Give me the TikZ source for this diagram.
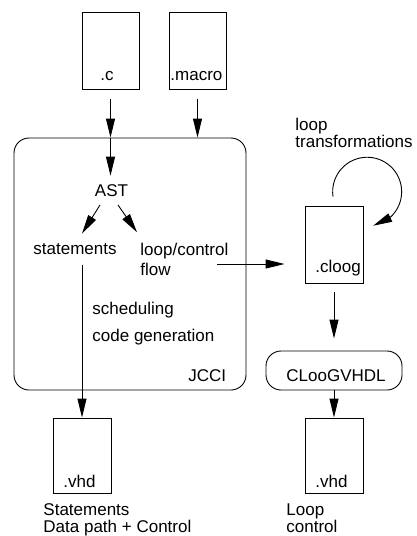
\documentclass[tikz,border=0pt]{standalone}
\usepackage{fontspec}
\setmainfont{Liberation Sans}
\usetikzlibrary{arrows.meta,bending}
\begin{document}
\begin{tikzpicture}[x=1pt,y=-1pt,line width=0.9pt,
  doc/.style={draw,inner sep=0pt,minimum width=57pt,minimum height=77pt},
  rbox/.style={draw,rounded corners=15pt,inner sep=0pt},
  txt/.style={inner sep=0pt,anchor=base west,align=left,font=\fontsize{17pt}{20pt}\selectfont},
  arr/.style={-{Triangle[length=19pt,width=9pt]}}]
\useasboundingbox (0,0) rectangle (417,536);
% input files
\node[doc] (cdoc) at (110.5,51) {};
\node[doc] (mdoc) at (197.5,51) {};
\node[txt] (ctxt) at (100,80) {.c};
\node[txt] (mtxt) at (170,80) {.macro};
% JCCI
\node[rbox,minimum width=232pt,minimum height=252pt] (jcci) at (130,264) {};
\node[txt] (jccitxt) at (188,381) {JCCI};
\node[txt,anchor=base] (ast) at (111.5,196) {AST};
\node[txt] (stm) at (33,254) {statements};
\node[txt] (loopc) at (140,275) {loop/control\\flow};
\node[txt] (sched) at (92,314) {scheduling};
\node[txt] (codegen) at (92,341) {code generation};
% cloog
\node[doc,minimum width=58pt] (cloog) at (334,244.5) {};
\node[txt] (cloogtxt) at (315,272) {.cloog};
\node[txt,font=\fontsize{17pt}{17pt}\selectfont] (looptxt) at (295,147.5) {loop\\transformations};
\node[rbox,minimum width=136pt,minimum height=39pt] (clg) at (334,370.5) {};
\node[txt] (clgtxt) at (286,381) {CLooGVHDL};
% outputs
\node[doc,minimum width=58pt,minimum height=75pt] (lvhd) at (82,455.5) {};
\node[doc,minimum width=58pt,minimum height=75pt] (rvhd) at (334,455.5) {};
\node[txt] (lvhdtxt) at (63,487) {.vhd};
\node[txt] (rvhdtxt) at (315,487) {.vhd};
\node[txt,font=\fontsize{17pt}{17pt}\selectfont] (stmlab) at (43,532) {Statements\\Data path + Control};
\node[txt,font=\fontsize{17pt}{17pt}\selectfont] (looplab) at (286,532) {Loop\\control};
% connectors
\draw[arr] ([yshift=-9pt]cdoc.south) -- (cdoc.south |- jcci.north);
\draw[arr] (cdoc.south |- jcci.north) -- ([yshift=8pt]cdoc.south |- ast.north);
\draw[arr] ([yshift=-9pt]mdoc.south) -- (mdoc.south |- jcci.north);
\draw[arr] ([xshift=-11.5pt,yshift=-9pt]ast.base) -- ([xshift=7pt,yshift=9pt]stm.north);
\draw[arr] ([xshift=6.5pt,yshift=-9pt]ast.base) -- ([xshift=-3pt,yshift=10pt]loopc.north west);
\draw[arr] ([xshift=-12pt,yshift=11pt]loopc.base east) coordinate (s1) -- ([xshift=-20pt]cloog.west |- s1);
\draw[arr] ([yshift=-10pt]stm.south -| lvhd.north) -- (lvhd.north);
\draw[arr] ([xshift=-1pt,yshift=9pt]cloog.north) arc[start angle=188,end angle=-80,radius=34.5pt];
\draw[arr] ([yshift=-9pt]cloog.south) -- ([yshift=12pt]clg.north);
\draw[arr] (clg.south) -- (rvhd.north);
\end{tikzpicture}
\end{document}
